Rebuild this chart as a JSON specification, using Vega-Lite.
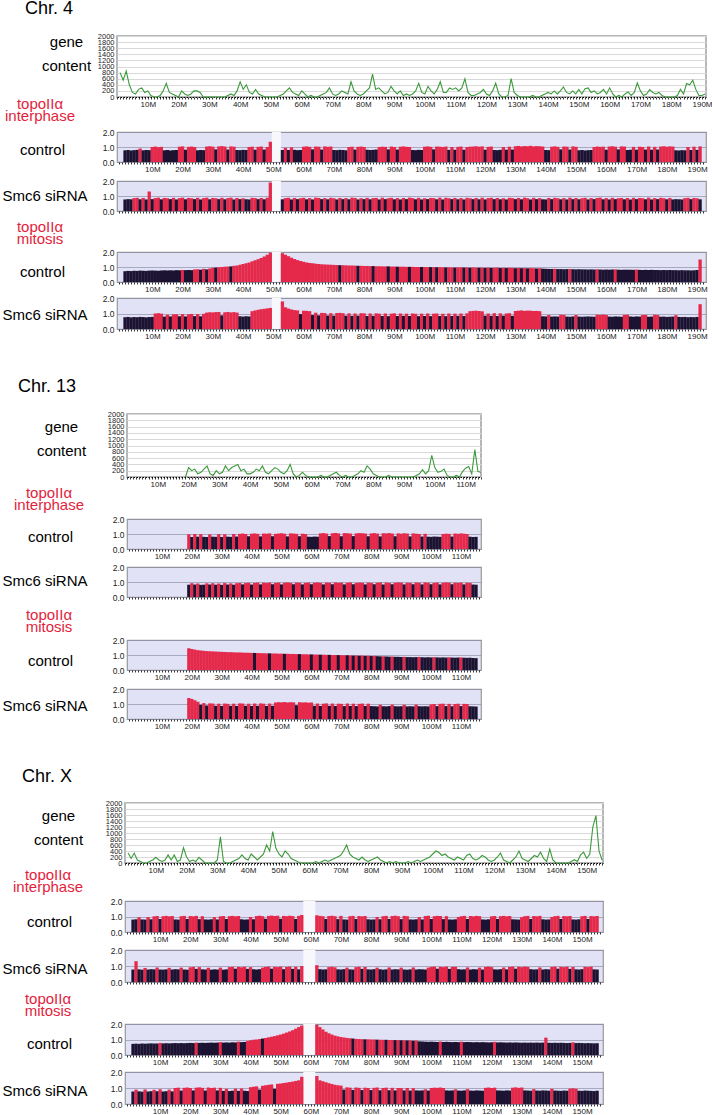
{
"$schema": "https://vega.github.io/schema/vega-lite/v6.json",
"padding": 0,
"background": "white",
"config": {
 "font": "Liberation Sans",
 "view": {"stroke": null},
 "axis": {"labelFont": "Liberation Sans", "titleFont": "Liberation Sans", "labelColor": "#222", "titleColor": "#000", "titleFontWeight": "normal", "titleFontSize": 15, "labelOverlap": false, "labelFlush": false, "labelBound": false},
 "axisX": {"labelFontSize": 8, "labelPadding": 1, "tickSize": 2, "tickColor": "#000", "tickWidth": 0.8, "domain": false, "grid": false},
 "axisY": {"labelFontSize": 8.5, "labelPadding": 3, "ticks": false, "domain": false, "titleAngle": 0, "titleBaseline": "alphabetic", "titleAlign": "center"},
 "title": {"font": "Liberation Sans", "fontWeight": "normal", "anchor": "start", "frame": "group"}
},
"datasets": {
"gap4": [{"s": 49.5, "e": 52.5}],
"gapx": [{"s": 57.5, "e": 61.5}],
"c4": [
{"x":1,"g":800,"a":78,"p":0,"b":77,"q":0,"c":72,"r":0,"d":76,"s":0},
{"x":2,"g":550,"a":80,"p":0,"b":79,"q":0,"c":74,"r":0,"d":78,"s":0},
{"x":3,"g":850,"a":77,"p":0,"b":78,"q":0,"c":73,"r":0,"d":75,"s":0},
{"x":4,"g":400,"a":79,"p":0,"b":86,"q":1,"c":75,"r":0,"d":77,"s":0},
{"x":5,"g":150,"a":81,"p":0,"b":88,"q":1,"c":74,"r":0,"d":76,"s":0},
{"x":6,"g":100,"a":90,"p":1,"b":78,"q":0,"c":76,"r":0,"d":78,"s":0},
{"x":7,"g":250,"a":78,"p":0,"b":87,"q":1,"c":75,"r":0,"d":77,"s":0},
{"x":8,"g":300,"a":80,"p":0,"b":77,"q":0,"c":74,"r":0,"d":75,"s":0},
{"x":9,"g":150,"a":79,"p":0,"b":130,"q":1,"c":76,"r":0,"d":77,"s":0},
{"x":10,"g":200,"a":100,"p":1,"b":79,"q":0,"c":77,"r":0,"d":78,"s":0},
{"x":11,"g":50,"a":103,"p":1,"b":86,"q":1,"c":76,"r":0,"d":100,"s":1},
{"x":12,"g":0,"a":99,"p":1,"b":89,"q":1,"c":75,"r":0,"d":102,"s":1},
{"x":13,"g":0,"a":101,"p":1,"b":78,"q":0,"c":77,"r":0,"d":99,"s":1},
{"x":14,"g":50,"a":78,"p":0,"b":87,"q":1,"c":78,"r":0,"d":80,"s":0},
{"x":15,"g":200,"a":80,"p":0,"b":85,"q":1,"c":77,"r":0,"d":92,"s":1},
{"x":16,"g":450,"a":77,"p":0,"b":79,"q":0,"c":78,"r":0,"d":81,"s":0},
{"x":17,"g":150,"a":79,"p":0,"b":88,"q":1,"c":77,"r":0,"d":94,"s":1},
{"x":18,"g":100,"a":80,"p":0,"b":77,"q":0,"c":79,"r":0,"d":95,"s":1},
{"x":19,"g":50,"a":102,"p":1,"b":86,"q":1,"c":78,"r":0,"d":82,"s":0},
{"x":20,"g":0,"a":104,"p":1,"b":89,"q":1,"c":80,"r":1,"d":96,"s":1},
{"x":21,"g":200,"a":82,"p":0,"b":78,"q":0,"c":79,"r":0,"d":81,"s":0},
{"x":22,"g":100,"a":101,"p":1,"b":87,"q":1,"c":80,"r":0,"d":95,"s":1},
{"x":23,"g":50,"a":103,"p":1,"b":85,"q":1,"c":79,"r":0,"d":97,"s":1},
{"x":24,"g":100,"a":100,"p":1,"b":79,"q":0,"c":84,"r":1,"d":83,"s":0},
{"x":25,"g":200,"a":78,"p":0,"b":88,"q":1,"c":85,"r":1,"d":96,"s":1},
{"x":26,"g":200,"a":80,"p":0,"b":77,"q":0,"c":82,"r":0,"d":82,"s":0},
{"x":27,"g":150,"a":79,"p":0,"b":86,"q":1,"c":88,"r":1,"d":98,"s":1},
{"x":28,"g":0,"a":103,"p":1,"b":89,"q":1,"c":84,"r":0,"d":106,"s":1},
{"x":29,"g":0,"a":105,"p":1,"b":78,"q":0,"c":90,"r":1,"d":108,"s":1},
{"x":30,"g":0,"a":102,"p":1,"b":87,"q":1,"c":95,"r":1,"d":107,"s":1},
{"x":31,"g":0,"a":84,"p":0,"b":85,"q":1,"c":96,"r":0,"d":109,"s":1},
{"x":32,"g":0,"a":104,"p":1,"b":79,"q":0,"c":98,"r":1,"d":110,"s":1},
{"x":33,"g":0,"a":106,"p":1,"b":88,"q":1,"c":100,"r":1,"d":88,"s":0},
{"x":34,"g":0,"a":103,"p":1,"b":78,"q":0,"c":102,"r":1,"d":108,"s":1},
{"x":35,"g":0,"a":83,"p":0,"b":86,"q":1,"c":103,"r":1,"d":110,"s":1},
{"x":36,"g":50,"a":104,"p":1,"b":89,"q":1,"c":104,"r":0,"d":107,"s":1},
{"x":37,"g":100,"a":102,"p":1,"b":77,"q":0,"c":108,"r":1,"d":109,"s":1},
{"x":38,"g":50,"a":80,"p":0,"b":87,"q":1,"c":110,"r":1,"d":106,"s":1},
{"x":39,"g":200,"a":79,"p":0,"b":79,"q":0,"c":115,"r":1,"d":82,"s":0},
{"x":40,"g":500,"a":81,"p":0,"b":85,"q":1,"c":120,"r":1,"d":80,"s":0},
{"x":41,"g":250,"a":80,"p":0,"b":78,"q":0,"c":125,"r":1,"d":83,"s":0},
{"x":42,"g":400,"a":100,"p":1,"b":77,"q":0,"c":130,"r":1,"d":81,"s":0},
{"x":43,"g":150,"a":102,"p":1,"b":88,"q":1,"c":138,"r":1,"d":115,"s":1},
{"x":44,"g":100,"a":82,"p":0,"b":86,"q":1,"c":145,"r":1,"d":120,"s":1},
{"x":45,"g":250,"a":101,"p":1,"b":79,"q":0,"c":152,"r":1,"d":124,"s":1},
{"x":46,"g":100,"a":103,"p":1,"b":87,"q":1,"c":160,"r":1,"d":128,"s":1},
{"x":47,"g":50,"a":83,"p":0,"b":78,"q":0,"c":170,"r":1,"d":130,"s":1},
{"x":48,"g":0,"a":100,"p":1,"b":89,"q":1,"c":182,"r":1,"d":133,"s":1},
{"x":49,"g":0,"a":135,"p":1,"b":190,"q":1,"c":195,"r":1,"d":136,"s":1},
{"x":50,"g":0},
{"x":51,"g":0},
{"x":52,"g":0},
{"x":53,"g":50,"a":80,"p":0,"b":78,"q":0,"c":192,"r":1,"d":178,"s":1},
{"x":54,"g":100,"a":95,"p":1,"b":86,"q":1,"c":182,"r":1,"d":140,"s":1},
{"x":55,"g":200,"a":80,"p":0,"b":88,"q":1,"c":172,"r":1,"d":132,"s":1},
{"x":56,"g":300,"a":98,"p":1,"b":77,"q":0,"c":162,"r":1,"d":126,"s":1},
{"x":57,"g":150,"a":81,"p":0,"b":87,"q":1,"c":153,"r":1,"d":122,"s":1},
{"x":58,"g":100,"a":79,"p":0,"b":79,"q":0,"c":146,"r":1,"d":120,"s":1},
{"x":59,"g":50,"a":80,"p":0,"b":85,"q":1,"c":140,"r":1,"d":96,"s":0},
{"x":60,"g":200,"a":102,"p":1,"b":88,"q":1,"c":135,"r":1,"d":118,"s":1},
{"x":61,"g":100,"a":104,"p":1,"b":78,"q":0,"c":130,"r":1,"d":117,"s":1},
{"x":62,"g":0,"a":101,"p":1,"b":86,"q":1,"c":127,"r":1,"d":115,"s":1},
{"x":63,"g":50,"a":84,"p":0,"b":77,"q":0,"c":125,"r":1,"d":90,"s":0},
{"x":64,"g":0,"a":103,"p":1,"b":89,"q":1,"c":122,"r":1,"d":105,"s":1},
{"x":65,"g":0,"a":102,"p":1,"b":87,"q":1,"c":120,"r":1,"d":88,"s":0},
{"x":66,"g":50,"a":83,"p":0,"b":79,"q":0,"c":118,"r":1,"d":104,"s":1},
{"x":67,"g":100,"a":104,"p":1,"b":86,"q":1,"c":117,"r":1,"d":103,"s":1},
{"x":68,"g":150,"a":101,"p":1,"b":78,"q":0,"c":116,"r":1,"d":87,"s":0},
{"x":69,"g":300,"a":103,"p":1,"b":88,"q":1,"c":115,"r":1,"d":102,"s":1},
{"x":70,"g":100,"a":80,"p":0,"b":85,"q":1,"c":114,"r":1,"d":86,"s":0},
{"x":71,"g":50,"a":79,"p":0,"b":77,"q":0,"c":113,"r":1,"d":103,"s":1},
{"x":72,"g":100,"a":81,"p":0,"b":87,"q":1,"c":112,"r":0,"d":104,"s":1},
{"x":73,"g":200,"a":80,"p":0,"b":79,"q":0,"c":112,"r":1,"d":102,"s":1},
{"x":74,"g":150,"a":78,"p":0,"b":86,"q":1,"c":111,"r":1,"d":86,"s":0},
{"x":75,"g":100,"a":100,"p":1,"b":78,"q":0,"c":110,"r":1,"d":101,"s":1},
{"x":76,"g":500,"a":102,"p":1,"b":89,"q":1,"c":110,"r":1,"d":85,"s":0},
{"x":77,"g":200,"a":83,"p":0,"b":87,"q":1,"c":109,"r":1,"d":100,"s":1},
{"x":78,"g":100,"a":101,"p":1,"b":77,"q":0,"c":108,"r":0,"d":86,"s":0},
{"x":79,"g":50,"a":103,"p":1,"b":85,"q":1,"c":108,"r":1,"d":102,"s":1},
{"x":80,"g":100,"a":100,"p":1,"b":79,"q":0,"c":107,"r":1,"d":101,"s":1},
{"x":81,"g":200,"a":82,"p":0,"b":88,"q":1,"c":107,"r":1,"d":84,"s":0},
{"x":82,"g":300,"a":80,"p":0,"b":78,"q":0,"c":106,"r":1,"d":100,"s":1},
{"x":83,"g":750,"a":81,"p":0,"b":86,"q":1,"c":106,"r":0,"d":85,"s":0},
{"x":84,"g":250,"a":83,"p":0,"b":87,"q":1,"c":105,"r":1,"d":101,"s":1},
{"x":85,"g":300,"a":100,"p":1,"b":77,"q":0,"c":105,"r":1,"d":99,"s":1},
{"x":86,"g":200,"a":102,"p":1,"b":89,"q":1,"c":104,"r":1,"d":84,"s":0},
{"x":87,"g":100,"a":101,"p":1,"b":79,"q":0,"c":104,"r":1,"d":100,"s":1},
{"x":88,"g":150,"a":84,"p":0,"b":85,"q":1,"c":104,"r":0,"d":83,"s":0},
{"x":89,"g":350,"a":103,"p":1,"b":88,"q":1,"c":103,"r":1,"d":99,"s":1},
{"x":90,"g":200,"a":100,"p":1,"b":78,"q":0,"c":103,"r":1,"d":101,"s":1},
{"x":91,"g":100,"a":83,"p":0,"b":86,"q":1,"c":102,"r":0,"d":84,"s":0},
{"x":92,"g":200,"a":102,"p":1,"b":77,"q":0,"c":102,"r":1,"d":100,"s":1},
{"x":93,"g":50,"a":104,"p":1,"b":87,"q":1,"c":102,"r":1,"d":85,"s":0},
{"x":94,"g":100,"a":101,"p":1,"b":79,"q":0,"c":101,"r":1,"d":99,"s":1},
{"x":95,"g":50,"a":100,"p":1,"b":89,"q":1,"c":101,"r":0,"d":84,"s":0},
{"x":96,"g":100,"a":80,"p":0,"b":86,"q":1,"c":101,"r":1,"d":100,"s":1},
{"x":97,"g":200,"a":79,"p":0,"b":78,"q":0,"c":100,"r":1,"d":98,"s":1},
{"x":98,"g":450,"a":81,"p":0,"b":88,"q":1,"c":100,"r":1,"d":83,"s":0},
{"x":99,"g":150,"a":80,"p":0,"b":77,"q":0,"c":100,"r":0,"d":99,"s":1},
{"x":100,"g":100,"a":102,"p":1,"b":85,"q":1,"c":100,"r":1,"d":84,"s":0},
{"x":101,"g":350,"a":104,"p":1,"b":79,"q":0,"c":99,"r":1,"d":100,"s":1},
{"x":102,"g":200,"a":101,"p":1,"b":87,"q":1,"c":99,"r":0,"d":83,"s":0},
{"x":103,"g":100,"a":84,"p":0,"b":86,"q":1,"c":99,"r":1,"d":99,"s":1},
{"x":104,"g":250,"a":103,"p":1,"b":78,"q":0,"c":98,"r":0,"d":100,"s":1},
{"x":105,"g":500,"a":102,"p":1,"b":89,"q":1,"c":99,"r":1,"d":84,"s":0},
{"x":106,"g":150,"a":100,"p":1,"b":77,"q":0,"c":98,"r":1,"d":98,"s":1},
{"x":107,"g":150,"a":103,"p":1,"b":88,"q":1,"c":97,"r":0,"d":83,"s":0},
{"x":108,"g":300,"a":81,"p":0,"b":85,"q":1,"c":98,"r":1,"d":100,"s":1},
{"x":109,"g":250,"a":100,"p":1,"b":79,"q":0,"c":97,"r":1,"d":84,"s":0},
{"x":110,"g":300,"a":82,"p":0,"b":87,"q":1,"c":96,"r":0,"d":99,"s":1},
{"x":111,"g":200,"a":101,"p":1,"b":78,"q":0,"c":97,"r":1,"d":85,"s":0},
{"x":112,"g":300,"a":103,"p":1,"b":86,"q":1,"c":98,"r":1,"d":100,"s":1},
{"x":113,"g":600,"a":82,"p":0,"b":77,"q":0,"c":96,"r":0,"d":84,"s":0},
{"x":114,"g":150,"a":100,"p":1,"b":88,"q":1,"c":97,"r":1,"d":101,"s":1},
{"x":115,"g":50,"a":102,"p":1,"b":85,"q":1,"c":95,"r":0,"d":115,"s":1},
{"x":116,"g":50,"a":103,"p":1,"b":79,"q":0,"c":97,"r":1,"d":117,"s":1},
{"x":117,"g":100,"a":105,"p":1,"b":87,"q":1,"c":96,"r":1,"d":118,"s":1},
{"x":118,"g":150,"a":102,"p":1,"b":78,"q":0,"c":95,"r":0,"d":116,"s":1},
{"x":119,"g":250,"a":104,"p":1,"b":89,"q":1,"c":96,"r":1,"d":114,"s":1},
{"x":120,"g":100,"a":82,"p":0,"b":77,"q":0,"c":94,"r":0,"d":86,"s":0},
{"x":121,"g":50,"a":101,"p":1,"b":86,"q":1,"c":96,"r":1,"d":100,"s":1},
{"x":122,"g":200,"a":103,"p":1,"b":88,"q":1,"c":94,"r":0,"d":85,"s":0},
{"x":123,"g":450,"a":80,"p":0,"b":79,"q":0,"c":95,"r":1,"d":102,"s":1},
{"x":124,"g":100,"a":79,"p":0,"b":87,"q":1,"c":96,"r":1,"d":84,"s":0},
{"x":125,"g":0,"a":81,"p":0,"b":78,"q":0,"c":93,"r":0,"d":101,"s":1},
{"x":126,"g":0,"a":100,"p":1,"b":85,"q":1,"c":95,"r":1,"d":86,"s":0},
{"x":127,"g":50,"a":82,"p":0,"b":77,"q":0,"c":93,"r":0,"d":100,"s":1},
{"x":128,"g":600,"a":102,"p":1,"b":88,"q":1,"c":95,"r":1,"d":102,"s":1},
{"x":129,"g":150,"a":83,"p":0,"b":86,"q":1,"c":94,"r":1,"d":85,"s":0},
{"x":130,"g":50,"a":105,"p":1,"b":79,"q":0,"c":92,"r":0,"d":116,"s":1},
{"x":131,"g":0,"a":107,"p":1,"b":87,"q":1,"c":94,"r":1,"d":118,"s":1},
{"x":132,"g":0,"a":104,"p":1,"b":78,"q":0,"c":92,"r":0,"d":120,"s":1},
{"x":133,"g":0,"a":106,"p":1,"b":89,"q":1,"c":93,"r":1,"d":117,"s":1},
{"x":134,"g":0,"a":105,"p":1,"b":85,"q":1,"c":91,"r":0,"d":119,"s":1},
{"x":135,"g":50,"a":108,"p":1,"b":77,"q":0,"c":93,"r":1,"d":118,"s":1},
{"x":136,"g":0,"a":104,"p":1,"b":88,"q":1,"c":92,"r":1,"d":116,"s":1},
{"x":137,"g":0,"a":106,"p":1,"b":79,"q":0,"c":90,"r":0,"d":117,"s":1},
{"x":138,"g":50,"a":105,"p":1,"b":86,"q":1,"c":92,"r":1,"d":115,"s":1},
{"x":139,"g":100,"a":103,"p":1,"b":78,"q":0,"c":89,"r":0,"d":82,"s":0},
{"x":140,"g":150,"a":80,"p":0,"b":77,"q":0,"c":88,"r":0,"d":81,"s":0},
{"x":141,"g":100,"a":79,"p":0,"b":87,"q":1,"c":87,"r":0,"d":90,"s":1},
{"x":142,"g":200,"a":102,"p":1,"b":79,"q":0,"c":87,"r":0,"d":80,"s":0},
{"x":143,"g":100,"a":104,"p":1,"b":88,"q":1,"c":88,"r":1,"d":81,"s":0},
{"x":144,"g":200,"a":101,"p":1,"b":85,"q":1,"c":86,"r":0,"d":80,"s":0},
{"x":145,"g":330,"a":84,"p":0,"b":78,"q":0,"c":86,"r":0,"d":92,"s":1},
{"x":146,"g":150,"a":103,"p":1,"b":86,"q":1,"c":85,"r":0,"d":91,"s":1},
{"x":147,"g":100,"a":102,"p":1,"b":77,"q":0,"c":86,"r":0,"d":80,"s":0},
{"x":148,"g":200,"a":83,"p":0,"b":89,"q":1,"c":87,"r":1,"d":79,"s":0},
{"x":149,"g":100,"a":104,"p":1,"b":79,"q":0,"c":85,"r":0,"d":81,"s":0},
{"x":150,"g":250,"a":101,"p":1,"b":87,"q":1,"c":84,"r":0,"d":90,"s":1},
{"x":151,"g":100,"a":78,"p":0,"b":78,"q":0,"c":85,"r":0,"d":80,"s":0},
{"x":152,"g":275,"a":80,"p":0,"b":85,"q":1,"c":84,"r":0,"d":79,"s":0},
{"x":153,"g":300,"a":77,"p":0,"b":88,"q":1,"c":84,"r":0,"d":80,"s":0},
{"x":154,"g":150,"a":79,"p":0,"b":77,"q":0,"c":83,"r":0,"d":81,"s":0},
{"x":155,"g":200,"a":80,"p":0,"b":86,"q":1,"c":84,"r":0,"d":80,"s":0},
{"x":156,"g":100,"a":100,"p":1,"b":79,"q":0,"c":83,"r":0,"d":79,"s":0},
{"x":157,"g":150,"a":103,"p":1,"b":87,"q":1,"c":85,"r":1,"d":92,"s":1},
{"x":158,"g":250,"a":101,"p":1,"b":89,"q":1,"c":83,"r":0,"d":91,"s":1},
{"x":159,"g":100,"a":102,"p":1,"b":78,"q":0,"c":82,"r":0,"d":93,"s":1},
{"x":160,"g":300,"a":82,"p":0,"b":86,"q":1,"c":83,"r":0,"d":90,"s":1},
{"x":161,"g":100,"a":103,"p":1,"b":77,"q":0,"c":82,"r":0,"d":80,"s":0},
{"x":162,"g":0,"a":105,"p":1,"b":88,"q":1,"c":83,"r":0,"d":79,"s":0},
{"x":163,"g":50,"a":102,"p":1,"b":79,"q":0,"c":84,"r":1,"d":81,"s":0},
{"x":164,"g":0,"a":84,"p":0,"b":85,"q":1,"c":82,"r":0,"d":80,"s":0},
{"x":165,"g":100,"a":104,"p":1,"b":87,"q":1,"c":81,"r":0,"d":79,"s":0},
{"x":166,"g":165,"a":103,"p":1,"b":78,"q":0,"c":82,"r":0,"d":91,"s":1},
{"x":167,"g":50,"a":80,"p":0,"b":86,"q":1,"c":81,"r":0,"d":92,"s":1},
{"x":168,"g":150,"a":81,"p":0,"b":77,"q":0,"c":82,"r":0,"d":80,"s":0},
{"x":169,"g":460,"a":101,"p":1,"b":88,"q":1,"c":81,"r":0,"d":79,"s":0},
{"x":170,"g":200,"a":82,"p":0,"b":79,"q":0,"c":83,"r":1,"d":81,"s":0},
{"x":171,"g":50,"a":102,"p":1,"b":87,"q":1,"c":81,"r":0,"d":80,"s":0},
{"x":172,"g":100,"a":100,"p":1,"b":85,"q":1,"c":80,"r":0,"d":90,"s":1},
{"x":173,"g":240,"a":83,"p":0,"b":78,"q":0,"c":81,"r":0,"d":91,"s":1},
{"x":174,"g":150,"a":103,"p":1,"b":89,"q":1,"c":80,"r":0,"d":79,"s":0},
{"x":175,"g":100,"a":82,"p":0,"b":77,"q":0,"c":81,"r":0,"d":80,"s":0},
{"x":176,"g":150,"a":101,"p":1,"b":86,"q":1,"c":80,"r":0,"d":92,"s":1},
{"x":177,"g":50,"a":83,"p":0,"b":79,"q":0,"c":80,"r":0,"d":90,"s":1},
{"x":178,"g":0,"a":103,"p":1,"b":88,"q":1,"c":79,"r":0,"d":79,"s":0},
{"x":179,"g":0,"a":105,"p":1,"b":85,"q":1,"c":80,"r":0,"d":80,"s":0},
{"x":180,"g":0,"a":102,"p":1,"b":78,"q":0,"c":79,"r":0,"d":78,"s":0},
{"x":181,"g":0,"a":104,"p":1,"b":87,"q":1,"c":80,"r":0,"d":79,"s":0},
{"x":182,"g":50,"a":103,"p":1,"b":77,"q":0,"c":79,"r":0,"d":80,"s":0},
{"x":183,"g":250,"a":78,"p":0,"b":79,"q":0,"c":79,"r":0,"d":89,"s":1},
{"x":184,"g":100,"a":77,"p":0,"b":78,"q":0,"c":78,"r":0,"d":78,"s":0},
{"x":185,"g":440,"a":79,"p":0,"b":77,"q":0,"c":79,"r":0,"d":77,"s":0},
{"x":186,"g":400,"a":78,"p":0,"b":86,"q":1,"c":78,"r":0,"d":78,"s":0},
{"x":187,"g":550,"a":100,"p":1,"b":88,"q":1,"c":78,"r":0,"d":76,"s":0},
{"x":188,"g":250,"a":80,"p":0,"b":79,"q":0,"c":77,"r":0,"d":77,"s":0},
{"x":189,"g":50,"a":102,"p":1,"b":87,"q":1,"c":78,"r":0,"d":76,"s":0},
{"x":190,"g":50,"a":81,"p":0,"b":85,"q":1,"c":80,"r":0,"d":78,"s":0},
{"x":191,"g":100,"a":104,"p":1,"b":78,"q":0,"c":150,"r":1,"d":160,"s":1}
],
"c13": [
{"x":19,"g":0,"a":98,"p":1,"b":82,"q":0,"c":145,"r":1,"d":140,"s":1},
{"x":20,"g":300,"a":80,"p":0,"b":92,"q":1,"c":140,"r":1,"d":134,"s":1},
{"x":21,"g":200,"a":100,"p":1,"b":83,"q":0,"c":136,"r":1,"d":125,"s":1},
{"x":22,"g":250,"a":82,"p":0,"b":90,"q":1,"c":132,"r":1,"d":115,"s":1},
{"x":23,"g":100,"a":99,"p":1,"b":81,"q":0,"c":130,"r":1,"d":95,"s":0},
{"x":24,"g":150,"a":81,"p":0,"b":82,"q":0,"c":128,"r":1,"d":106,"s":1},
{"x":25,"g":250,"a":80,"p":0,"b":91,"q":1,"c":126,"r":1,"d":90,"s":0},
{"x":26,"g":350,"a":97,"p":1,"b":83,"q":0,"c":125,"r":1,"d":104,"s":1},
{"x":27,"g":100,"a":82,"p":0,"b":92,"q":1,"c":124,"r":1,"d":103,"s":1},
{"x":28,"g":50,"a":81,"p":0,"b":82,"q":0,"c":123,"r":1,"d":88,"s":0},
{"x":29,"g":200,"a":99,"p":1,"b":90,"q":1,"c":122,"r":1,"d":102,"s":1},
{"x":30,"g":100,"a":80,"p":0,"b":81,"q":0,"c":121,"r":1,"d":87,"s":0},
{"x":31,"g":150,"a":98,"p":1,"b":93,"q":1,"c":120,"r":1,"d":103,"s":1},
{"x":32,"g":350,"a":82,"p":0,"b":83,"q":0,"c":119,"r":1,"d":101,"s":1},
{"x":33,"g":200,"a":81,"p":0,"b":91,"q":1,"c":119,"r":1,"d":88,"s":0},
{"x":34,"g":300,"a":100,"p":1,"b":82,"q":0,"c":118,"r":1,"d":102,"s":1},
{"x":35,"g":350,"a":83,"p":0,"b":92,"q":1,"c":117,"r":1,"d":87,"s":0},
{"x":36,"g":400,"a":101,"p":1,"b":94,"q":1,"c":117,"r":1,"d":104,"s":1},
{"x":37,"g":200,"a":103,"p":1,"b":84,"q":0,"c":116,"r":1,"d":103,"s":1},
{"x":38,"g":250,"a":100,"p":1,"b":93,"q":1,"c":115,"r":1,"d":88,"s":0},
{"x":39,"g":100,"a":85,"p":0,"b":95,"q":1,"c":115,"r":1,"d":102,"s":1},
{"x":40,"g":100,"a":102,"p":1,"b":83,"q":0,"c":114,"r":1,"d":87,"s":0},
{"x":41,"g":150,"a":104,"p":1,"b":94,"q":1,"c":114,"r":0,"d":103,"s":1},
{"x":42,"g":250,"a":101,"p":1,"b":96,"q":1,"c":113,"r":1,"d":88,"s":0},
{"x":43,"g":200,"a":84,"p":0,"b":84,"q":0,"c":112,"r":1,"d":104,"s":1},
{"x":44,"g":350,"a":103,"p":1,"b":95,"q":1,"c":112,"r":1,"d":102,"s":1},
{"x":45,"g":150,"a":102,"p":1,"b":93,"q":1,"c":111,"r":1,"d":87,"s":0},
{"x":46,"g":100,"a":104,"p":1,"b":96,"q":1,"c":111,"r":0,"d":103,"s":1},
{"x":47,"g":200,"a":85,"p":0,"b":85,"q":0,"c":110,"r":1,"d":88,"s":0},
{"x":48,"g":300,"a":101,"p":1,"b":94,"q":1,"c":110,"r":1,"d":110,"s":1},
{"x":49,"g":250,"a":103,"p":1,"b":96,"q":1,"c":109,"r":1,"d":112,"s":1},
{"x":50,"g":150,"a":105,"p":1,"b":84,"q":0,"c":109,"r":1,"d":111,"s":1},
{"x":51,"g":100,"a":102,"p":1,"b":95,"q":1,"c":108,"r":0,"d":113,"s":1},
{"x":52,"g":200,"a":84,"p":0,"b":97,"q":1,"c":108,"r":1,"d":110,"s":1},
{"x":53,"g":400,"a":104,"p":1,"b":94,"q":1,"c":107,"r":1,"d":112,"s":1},
{"x":54,"g":100,"a":103,"p":1,"b":85,"q":0,"c":107,"r":1,"d":111,"s":1},
{"x":55,"g":0,"a":101,"p":1,"b":96,"q":1,"c":106,"r":1,"d":92,"s":0},
{"x":56,"g":50,"a":85,"p":0,"b":95,"q":1,"c":106,"r":0,"d":112,"s":1},
{"x":57,"g":150,"a":102,"p":1,"b":84,"q":0,"c":105,"r":1,"d":110,"s":1},
{"x":58,"g":50,"a":100,"p":1,"b":94,"q":1,"c":105,"r":1,"d":111,"s":1},
{"x":59,"g":0,"a":82,"p":0,"b":96,"q":1,"c":104,"r":1,"d":109,"s":1},
{"x":60,"g":0,"a":81,"p":0,"b":85,"q":0,"c":104,"r":0,"d":110,"s":1},
{"x":61,"g":0,"a":83,"p":0,"b":95,"q":1,"c":103,"r":1,"d":88,"s":0},
{"x":62,"g":0,"a":82,"p":0,"b":97,"q":1,"c":103,"r":1,"d":103,"s":1},
{"x":63,"g":50,"a":104,"p":1,"b":94,"q":1,"c":102,"r":0,"d":87,"s":0},
{"x":64,"g":0,"a":106,"p":1,"b":84,"q":0,"c":102,"r":1,"d":102,"s":1},
{"x":65,"g":0,"a":103,"p":1,"b":96,"q":1,"c":101,"r":1,"d":104,"s":1},
{"x":66,"g":50,"a":86,"p":0,"b":95,"q":1,"c":101,"r":0,"d":88,"s":0},
{"x":67,"g":100,"a":105,"p":1,"b":85,"q":0,"c":100,"r":1,"d":103,"s":1},
{"x":68,"g":150,"a":107,"p":1,"b":97,"q":1,"c":100,"r":1,"d":87,"s":0},
{"x":69,"g":50,"a":104,"p":1,"b":94,"q":1,"c":99,"r":0,"d":102,"s":1},
{"x":70,"g":0,"a":85,"p":0,"b":96,"q":1,"c":99,"r":1,"d":101,"s":1},
{"x":71,"g":50,"a":106,"p":1,"b":84,"q":0,"c":98,"r":1,"d":86,"s":0},
{"x":72,"g":0,"a":105,"p":1,"b":95,"q":1,"c":98,"r":0,"d":103,"s":1},
{"x":73,"g":0,"a":103,"p":1,"b":97,"q":1,"c":97,"r":1,"d":87,"s":0},
{"x":74,"g":50,"a":86,"p":0,"b":85,"q":0,"c":96,"r":0,"d":102,"s":1},
{"x":75,"g":100,"a":104,"p":1,"b":94,"q":1,"c":97,"r":1,"d":86,"s":0},
{"x":76,"g":200,"a":106,"p":1,"b":96,"q":1,"c":95,"r":0,"d":101,"s":1},
{"x":77,"g":150,"a":105,"p":1,"b":95,"q":1,"c":96,"r":1,"d":103,"s":1},
{"x":78,"g":350,"a":103,"p":1,"b":84,"q":0,"c":94,"r":0,"d":87,"s":0},
{"x":79,"g":250,"a":85,"p":0,"b":96,"q":1,"c":95,"r":1,"d":102,"s":1},
{"x":80,"g":100,"a":104,"p":1,"b":94,"q":1,"c":93,"r":0,"d":86,"s":0},
{"x":81,"g":50,"a":106,"p":1,"b":85,"q":0,"c":94,"r":1,"d":85,"s":0},
{"x":82,"g":0,"a":103,"p":1,"b":95,"q":1,"c":92,"r":0,"d":84,"s":0},
{"x":83,"g":0,"a":84,"p":0,"b":97,"q":1,"c":91,"r":0,"d":95,"s":1},
{"x":84,"g":0,"a":105,"p":1,"b":84,"q":0,"c":92,"r":1,"d":85,"s":0},
{"x":85,"g":50,"a":104,"p":1,"b":96,"q":1,"c":90,"r":0,"d":84,"s":0},
{"x":86,"g":0,"a":106,"p":1,"b":94,"q":1,"c":89,"r":0,"d":86,"s":0},
{"x":87,"g":0,"a":103,"p":1,"b":85,"q":0,"c":90,"r":1,"d":96,"s":1},
{"x":88,"g":0,"a":85,"p":0,"b":95,"q":1,"c":88,"r":0,"d":85,"s":0},
{"x":89,"g":0,"a":104,"p":1,"b":97,"q":1,"c":88,"r":0,"d":84,"s":0},
{"x":90,"g":0,"a":102,"p":1,"b":96,"q":1,"c":87,"r":0,"d":85,"s":0},
{"x":91,"g":0,"a":105,"p":1,"b":84,"q":0,"c":88,"r":1,"d":95,"s":1},
{"x":92,"g":0,"a":103,"p":1,"b":95,"q":1,"c":86,"r":0,"d":84,"s":0},
{"x":93,"g":0,"a":84,"p":0,"b":94,"q":1,"c":86,"r":0,"d":85,"s":0},
{"x":94,"g":50,"a":104,"p":1,"b":85,"q":0,"c":85,"r":0,"d":84,"s":0},
{"x":95,"g":100,"a":102,"p":1,"b":96,"q":1,"c":86,"r":0,"d":96,"s":1},
{"x":96,"g":230,"a":100,"p":1,"b":95,"q":1,"c":87,"r":1,"d":85,"s":0},
{"x":97,"g":100,"a":83,"p":0,"b":84,"q":0,"c":85,"r":0,"d":84,"s":0},
{"x":98,"g":200,"a":101,"p":1,"b":97,"q":1,"c":84,"r":0,"d":85,"s":0},
{"x":99,"g":690,"a":82,"p":0,"b":95,"q":1,"c":85,"r":0,"d":84,"s":0},
{"x":100,"g":300,"a":81,"p":0,"b":85,"q":0,"c":84,"r":0,"d":97,"s":1},
{"x":101,"g":150,"a":83,"p":0,"b":94,"q":1,"c":86,"r":1,"d":100,"s":1},
{"x":102,"g":180,"a":82,"p":0,"b":96,"q":1,"c":84,"r":0,"d":86,"s":0},
{"x":103,"g":250,"a":81,"p":0,"b":84,"q":0,"c":83,"r":0,"d":101,"s":1},
{"x":104,"g":50,"a":100,"p":1,"b":95,"q":1,"c":84,"r":0,"d":102,"s":1},
{"x":105,"g":0,"a":102,"p":1,"b":97,"q":1,"c":83,"r":0,"d":86,"s":0},
{"x":106,"g":0,"a":101,"p":1,"b":96,"q":1,"c":85,"r":1,"d":101,"s":1},
{"x":107,"g":50,"a":83,"p":0,"b":85,"q":0,"c":83,"r":0,"d":85,"s":0},
{"x":108,"g":0,"a":103,"p":1,"b":95,"q":1,"c":82,"r":0,"d":100,"s":1},
{"x":109,"g":170,"a":101,"p":1,"b":94,"q":1,"c":83,"r":0,"d":102,"s":1},
{"x":110,"g":280,"a":104,"p":1,"b":96,"q":1,"c":84,"r":1,"d":86,"s":0},
{"x":111,"g":330,"a":102,"p":1,"b":84,"q":0,"c":82,"r":0,"d":101,"s":1},
{"x":112,"g":100,"a":100,"p":1,"b":95,"q":1,"c":81,"r":0,"d":100,"s":1},
{"x":113,"g":870,"a":82,"p":0,"b":94,"q":1,"c":82,"r":0,"d":85,"s":0},
{"x":114,"g":170,"a":80,"p":0,"b":83,"q":0,"c":80,"r":0,"d":84,"s":0},
{"x":115,"g":150,"a":81,"p":0,"b":82,"q":0,"c":79,"r":0,"d":83,"s":0}
],
"cx": [
{"x":1,"g":330,"a":80,"p":0,"b":78,"q":0,"c":72,"r":0,"d":78,"s":0},
{"x":2,"g":150,"a":82,"p":0,"b":130,"q":1,"c":73,"r":0,"d":90,"s":1},
{"x":3,"g":330,"a":95,"p":1,"b":79,"q":0,"c":72,"r":0,"d":79,"s":0},
{"x":4,"g":100,"a":81,"p":0,"b":77,"q":0,"c":74,"r":0,"d":77,"s":0},
{"x":5,"g":50,"a":80,"p":0,"b":88,"q":1,"c":73,"r":0,"d":91,"s":1},
{"x":6,"g":0,"a":96,"p":1,"b":78,"q":0,"c":74,"r":0,"d":78,"s":0},
{"x":7,"g":0,"a":82,"p":0,"b":80,"q":0,"c":75,"r":0,"d":80,"s":0},
{"x":8,"g":50,"a":101,"p":1,"b":79,"q":0,"c":74,"r":0,"d":89,"s":1},
{"x":9,"g":100,"a":103,"p":1,"b":90,"q":1,"c":75,"r":0,"d":79,"s":0},
{"x":10,"g":190,"a":84,"p":0,"b":78,"q":0,"c":78,"r":1,"d":92,"s":1},
{"x":11,"g":100,"a":102,"p":1,"b":77,"q":0,"c":75,"r":0,"d":78,"s":0},
{"x":12,"g":50,"a":104,"p":1,"b":79,"q":0,"c":76,"r":0,"d":80,"s":0},
{"x":13,"g":100,"a":101,"p":1,"b":89,"q":1,"c":75,"r":0,"d":90,"s":1},
{"x":14,"g":270,"a":103,"p":1,"b":78,"q":0,"c":76,"r":0,"d":79,"s":0},
{"x":15,"g":100,"a":81,"p":0,"b":80,"q":0,"c":77,"r":0,"d":100,"s":1},
{"x":16,"g":270,"a":80,"p":0,"b":79,"q":0,"c":76,"r":0,"d":102,"s":1},
{"x":17,"g":50,"a":102,"p":1,"b":90,"q":1,"c":77,"r":0,"d":84,"s":0},
{"x":18,"g":100,"a":104,"p":1,"b":78,"q":0,"c":76,"r":0,"d":101,"s":1},
{"x":19,"g":510,"a":84,"p":0,"b":77,"q":0,"c":77,"r":0,"d":103,"s":1},
{"x":20,"g":200,"a":103,"p":1,"b":92,"q":1,"c":78,"r":0,"d":100,"s":1},
{"x":21,"g":50,"a":101,"p":1,"b":94,"q":1,"c":77,"r":0,"d":85,"s":0},
{"x":22,"g":100,"a":104,"p":1,"b":82,"q":0,"c":80,"r":1,"d":102,"s":1},
{"x":23,"g":50,"a":83,"p":0,"b":93,"q":1,"c":78,"r":0,"d":104,"s":1},
{"x":24,"g":190,"a":102,"p":1,"b":79,"q":0,"c":79,"r":0,"d":101,"s":1},
{"x":25,"g":100,"a":81,"p":0,"b":78,"q":0,"c":78,"r":0,"d":84,"s":0},
{"x":26,"g":0,"a":80,"p":0,"b":89,"q":1,"c":79,"r":0,"d":103,"s":1},
{"x":27,"g":0,"a":82,"p":0,"b":77,"q":0,"c":80,"r":0,"d":100,"s":1},
{"x":28,"g":0,"a":96,"p":1,"b":79,"q":0,"c":79,"r":0,"d":102,"s":1},
{"x":29,"g":0,"a":81,"p":0,"b":78,"q":0,"c":80,"r":0,"d":85,"s":0},
{"x":30,"g":100,"a":101,"p":1,"b":90,"q":1,"c":83,"r":1,"d":101,"s":1},
{"x":31,"g":870,"a":103,"p":1,"b":77,"q":0,"c":80,"r":0,"d":82,"s":0},
{"x":32,"g":50,"a":84,"p":0,"b":79,"q":0,"c":81,"r":0,"d":95,"s":1},
{"x":33,"g":0,"a":102,"p":1,"b":93,"q":1,"c":80,"r":0,"d":81,"s":0},
{"x":34,"g":0,"a":104,"p":1,"b":95,"q":1,"c":82,"r":0,"d":83,"s":0},
{"x":35,"g":50,"a":101,"p":1,"b":83,"q":0,"c":81,"r":0,"d":96,"s":1},
{"x":36,"g":100,"a":103,"p":1,"b":94,"q":1,"c":86,"r":1,"d":82,"s":0},
{"x":37,"g":150,"a":82,"p":0,"b":92,"q":1,"c":83,"r":0,"d":97,"s":1},
{"x":38,"g":270,"a":80,"p":0,"b":95,"q":1,"c":84,"r":0,"d":83,"s":0},
{"x":39,"g":150,"a":81,"p":0,"b":82,"q":0,"c":90,"r":1,"d":81,"s":0},
{"x":40,"g":100,"a":97,"p":1,"b":93,"q":1,"c":95,"r":1,"d":105,"s":1},
{"x":41,"g":300,"a":82,"p":0,"b":79,"q":0,"c":98,"r":1,"d":108,"s":1},
{"x":42,"g":200,"a":103,"p":1,"b":78,"q":0,"c":100,"r":1,"d":110,"s":1},
{"x":43,"g":100,"a":105,"p":1,"b":80,"q":0,"c":103,"r":1,"d":90,"s":0},
{"x":44,"g":200,"a":102,"p":1,"b":90,"q":1,"c":106,"r":0,"d":114,"s":1},
{"x":45,"g":300,"a":85,"p":0,"b":94,"q":1,"c":110,"r":1,"d":117,"s":1},
{"x":46,"g":600,"a":104,"p":1,"b":96,"q":1,"c":114,"r":1,"d":120,"s":1},
{"x":47,"g":400,"a":106,"p":1,"b":83,"q":0,"c":118,"r":1,"d":122,"s":1},
{"x":48,"g":1050,"a":103,"p":1,"b":95,"q":1,"c":122,"r":1,"d":95,"s":0},
{"x":49,"g":500,"a":105,"p":1,"b":93,"q":1,"c":127,"r":1,"d":126,"s":1},
{"x":50,"g":300,"a":85,"p":0,"b":96,"q":1,"c":132,"r":1,"d":128,"s":1},
{"x":51,"g":200,"a":104,"p":1,"b":80,"q":0,"c":138,"r":1,"d":131,"s":1},
{"x":52,"g":400,"a":102,"p":1,"b":94,"q":1,"c":145,"r":1,"d":134,"s":1},
{"x":53,"g":300,"a":105,"p":1,"b":96,"q":1,"c":152,"r":1,"d":137,"s":1},
{"x":54,"g":150,"a":103,"p":1,"b":82,"q":0,"c":160,"r":1,"d":140,"s":1},
{"x":55,"g":100,"a":84,"p":0,"b":95,"q":1,"c":170,"r":1,"d":144,"s":1},
{"x":56,"g":50,"a":104,"p":1,"b":79,"q":0,"c":180,"r":1,"d":148,"s":1},
{"x":57,"g":0,"a":110,"p":1,"b":100,"q":1,"c":190,"r":1,"d":170,"s":1},
{"x":58,"g":0},
{"x":59,"g":0},
{"x":60,"g":0},
{"x":61,"g":0},
{"x":62,"g":50,"a":108,"p":1,"b":105,"q":1,"c":195,"r":1,"d":175,"s":1},
{"x":63,"g":0,"a":104,"p":1,"b":80,"q":0,"c":180,"r":1,"d":148,"s":1},
{"x":64,"g":50,"a":102,"p":1,"b":78,"q":0,"c":165,"r":1,"d":142,"s":1},
{"x":65,"g":100,"a":84,"p":0,"b":79,"q":0,"c":150,"r":1,"d":136,"s":1},
{"x":66,"g":50,"a":103,"p":1,"b":93,"q":1,"c":140,"r":1,"d":130,"s":1},
{"x":67,"g":100,"a":105,"p":1,"b":95,"q":1,"c":132,"r":1,"d":125,"s":1},
{"x":68,"g":150,"a":102,"p":1,"b":92,"q":1,"c":125,"r":1,"d":120,"s":1},
{"x":69,"g":200,"a":83,"p":0,"b":79,"q":0,"c":120,"r":1,"d":117,"s":1},
{"x":70,"g":250,"a":104,"p":1,"b":78,"q":0,"c":116,"r":1,"d":115,"s":1},
{"x":71,"g":400,"a":81,"p":0,"b":80,"q":0,"c":113,"r":1,"d":90,"s":0},
{"x":72,"g":600,"a":80,"p":0,"b":90,"q":1,"c":110,"r":1,"d":104,"s":1},
{"x":73,"g":300,"a":102,"p":1,"b":79,"q":0,"c":108,"r":1,"d":102,"s":1},
{"x":74,"g":200,"a":104,"p":1,"b":78,"q":0,"c":106,"r":0,"d":88,"s":0},
{"x":75,"g":150,"a":84,"p":0,"b":93,"q":1,"c":104,"r":1,"d":103,"s":1},
{"x":76,"g":100,"a":103,"p":1,"b":95,"q":1,"c":103,"r":1,"d":101,"s":1},
{"x":77,"g":200,"a":101,"p":1,"b":82,"q":0,"c":102,"r":1,"d":87,"s":0},
{"x":78,"g":100,"a":103,"p":1,"b":94,"q":1,"c":101,"r":0,"d":102,"s":1},
{"x":79,"g":50,"a":82,"p":0,"b":79,"q":0,"c":101,"r":1,"d":100,"s":1},
{"x":80,"g":100,"a":80,"p":0,"b":78,"q":0,"c":100,"r":1,"d":87,"s":0},
{"x":81,"g":150,"a":81,"p":0,"b":80,"q":0,"c":100,"r":1,"d":101,"s":1},
{"x":82,"g":200,"a":97,"p":1,"b":90,"q":1,"c":99,"r":0,"d":103,"s":1},
{"x":83,"g":100,"a":82,"p":0,"b":79,"q":0,"c":99,"r":1,"d":86,"s":0},
{"x":84,"g":50,"a":102,"p":1,"b":77,"q":0,"c":98,"r":1,"d":100,"s":1},
{"x":85,"g":0,"a":104,"p":1,"b":79,"q":0,"c":98,"r":0,"d":102,"s":1},
{"x":86,"g":50,"a":84,"p":0,"b":91,"q":1,"c":97,"r":1,"d":86,"s":0},
{"x":87,"g":0,"a":103,"p":1,"b":78,"q":0,"c":97,"r":1,"d":101,"s":1},
{"x":88,"g":50,"a":105,"p":1,"b":80,"q":0,"c":96,"r":0,"d":85,"s":0},
{"x":89,"g":0,"a":102,"p":1,"b":79,"q":0,"c":96,"r":1,"d":100,"s":1},
{"x":90,"g":0,"a":83,"p":0,"b":90,"q":1,"c":95,"r":0,"d":99,"s":1},
{"x":91,"g":0,"a":104,"p":1,"b":78,"q":0,"c":95,"r":1,"d":85,"s":0},
{"x":92,"g":50,"a":102,"p":1,"b":77,"q":0,"c":94,"r":0,"d":100,"s":1},
{"x":93,"g":0,"a":81,"p":0,"b":79,"q":0,"c":94,"r":1,"d":84,"s":0},
{"x":94,"g":50,"a":80,"p":0,"b":91,"q":1,"c":92,"r":0,"d":99,"s":1},
{"x":95,"g":100,"a":82,"p":0,"b":78,"q":0,"c":93,"r":1,"d":85,"s":0},
{"x":96,"g":50,"a":96,"p":1,"b":80,"q":0,"c":88,"r":0,"d":84,"s":0},
{"x":97,"g":100,"a":81,"p":0,"b":79,"q":0,"c":87,"r":0,"d":85,"s":0},
{"x":98,"g":150,"a":103,"p":1,"b":78,"q":0,"c":86,"r":0,"d":92,"s":1},
{"x":99,"g":200,"a":105,"p":1,"b":90,"q":1,"c":85,"r":0,"d":84,"s":0},
{"x":100,"g":300,"a":84,"p":0,"b":94,"q":1,"c":86,"r":0,"d":100,"s":1},
{"x":101,"g":400,"a":102,"p":1,"b":96,"q":1,"c":85,"r":0,"d":102,"s":1},
{"x":102,"g":350,"a":104,"p":1,"b":83,"q":0,"c":84,"r":0,"d":101,"s":1},
{"x":103,"g":250,"a":103,"p":1,"b":95,"q":1,"c":87,"r":1,"d":103,"s":1},
{"x":104,"g":300,"a":83,"p":0,"b":93,"q":1,"c":84,"r":0,"d":100,"s":1},
{"x":105,"g":200,"a":102,"p":1,"b":96,"q":1,"c":85,"r":0,"d":85,"s":0},
{"x":106,"g":150,"a":81,"p":0,"b":82,"q":0,"c":84,"r":0,"d":84,"s":0},
{"x":107,"g":100,"a":80,"p":0,"b":94,"q":1,"c":83,"r":0,"d":85,"s":0},
{"x":108,"g":200,"a":82,"p":0,"b":95,"q":1,"c":84,"r":0,"d":92,"s":1},
{"x":109,"g":150,"a":97,"p":1,"b":80,"q":0,"c":83,"r":0,"d":84,"s":0},
{"x":110,"g":100,"a":102,"p":1,"b":78,"q":0,"c":86,"r":1,"d":83,"s":0},
{"x":111,"g":250,"a":104,"p":1,"b":79,"q":0,"c":83,"r":0,"d":85,"s":0},
{"x":112,"g":300,"a":84,"p":0,"b":91,"q":1,"c":84,"r":0,"d":93,"s":1},
{"x":113,"g":150,"a":103,"p":1,"b":78,"q":0,"c":83,"r":0,"d":84,"s":0},
{"x":114,"g":100,"a":101,"p":1,"b":80,"q":0,"c":82,"r":0,"d":83,"s":0},
{"x":115,"g":150,"a":104,"p":1,"b":79,"q":0,"c":83,"r":0,"d":85,"s":0},
{"x":116,"g":250,"a":102,"p":1,"b":90,"q":1,"c":82,"r":0,"d":84,"s":0},
{"x":117,"g":200,"a":81,"p":0,"b":78,"q":0,"c":83,"r":0,"d":83,"s":0},
{"x":118,"g":100,"a":80,"p":0,"b":94,"q":1,"c":82,"r":0,"d":101,"s":1},
{"x":119,"g":50,"a":82,"p":0,"b":96,"q":1,"c":81,"r":0,"d":103,"s":1},
{"x":120,"g":100,"a":101,"p":1,"b":93,"q":1,"c":82,"r":0,"d":100,"s":1},
{"x":121,"g":200,"a":103,"p":1,"b":79,"q":0,"c":85,"r":1,"d":102,"s":1},
{"x":122,"g":330,"a":84,"p":0,"b":78,"q":0,"c":81,"r":0,"d":85,"s":0},
{"x":123,"g":100,"a":102,"p":1,"b":80,"q":0,"c":82,"r":0,"d":84,"s":0},
{"x":124,"g":50,"a":104,"p":1,"b":91,"q":1,"c":81,"r":0,"d":83,"s":0},
{"x":125,"g":0,"a":101,"p":1,"b":79,"q":0,"c":80,"r":0,"d":85,"s":0},
{"x":126,"g":100,"a":103,"p":1,"b":94,"q":1,"c":81,"r":0,"d":84,"s":0},
{"x":127,"g":200,"a":82,"p":0,"b":96,"q":1,"c":80,"r":0,"d":102,"s":1},
{"x":128,"g":400,"a":81,"p":0,"b":83,"q":0,"c":81,"r":0,"d":104,"s":1},
{"x":129,"g":150,"a":80,"p":0,"b":95,"q":1,"c":80,"r":0,"d":101,"s":1},
{"x":130,"g":100,"a":96,"p":1,"b":93,"q":1,"c":79,"r":0,"d":103,"s":1},
{"x":131,"g":50,"a":102,"p":1,"b":96,"q":1,"c":80,"r":0,"d":85,"s":0},
{"x":132,"g":150,"a":104,"p":1,"b":94,"q":1,"c":79,"r":0,"d":84,"s":0},
{"x":133,"g":250,"a":84,"p":0,"b":80,"q":0,"c":80,"r":0,"d":83,"s":0},
{"x":134,"g":200,"a":103,"p":1,"b":78,"q":0,"c":79,"r":0,"d":93,"s":1},
{"x":135,"g":360,"a":101,"p":1,"b":79,"q":0,"c":80,"r":0,"d":84,"s":0},
{"x":136,"g":150,"a":104,"p":1,"b":91,"q":1,"c":79,"r":0,"d":83,"s":0},
{"x":137,"g":50,"a":82,"p":0,"b":78,"q":0,"c":80,"r":0,"d":85,"s":0},
{"x":138,"g":460,"a":80,"p":0,"b":80,"q":0,"c":112,"r":1,"d":84,"s":0},
{"x":139,"g":100,"a":81,"p":0,"b":79,"q":0,"c":79,"r":0,"d":83,"s":0},
{"x":140,"g":0,"a":97,"p":1,"b":94,"q":1,"c":78,"r":0,"d":95,"s":1},
{"x":141,"g":0,"a":102,"p":1,"b":96,"q":1,"c":79,"r":0,"d":84,"s":0},
{"x":142,"g":0,"a":104,"p":1,"b":83,"q":0,"c":78,"r":0,"d":83,"s":0},
{"x":143,"g":0,"a":84,"p":0,"b":95,"q":1,"c":79,"r":0,"d":82,"s":0},
{"x":144,"g":0,"a":103,"p":1,"b":93,"q":1,"c":78,"r":0,"d":84,"s":0},
{"x":145,"g":50,"a":101,"p":1,"b":96,"q":1,"c":77,"r":0,"d":83,"s":0},
{"x":146,"g":110,"a":103,"p":1,"b":82,"q":0,"c":78,"r":0,"d":96,"s":1},
{"x":147,"g":50,"a":81,"p":0,"b":94,"q":1,"c":82,"r":1,"d":98,"s":1},
{"x":148,"g":270,"a":80,"p":0,"b":79,"q":0,"c":77,"r":0,"d":95,"s":1},
{"x":149,"g":360,"a":82,"p":0,"b":78,"q":0,"c":78,"r":0,"d":83,"s":0},
{"x":150,"g":150,"a":102,"p":1,"b":80,"q":0,"c":77,"r":0,"d":82,"s":0},
{"x":151,"g":300,"a":104,"p":1,"b":95,"q":1,"c":76,"r":0,"d":84,"s":0},
{"x":152,"g":1200,"a":84,"p":0,"b":93,"q":1,"c":77,"r":0,"d":83,"s":0},
{"x":153,"g":1580,"a":103,"p":1,"b":96,"q":1,"c":76,"r":0,"d":82,"s":0},
{"x":154,"g":400,"a":101,"p":1,"b":79,"q":0,"c":75,"r":0,"d":81,"s":0},
{"x":155,"g":100,"a":103,"p":1,"b":78,"q":0,"c":76,"r":0,"d":83,"s":0}
]
},
"concat": [
{
 "title": {"text": "Chr. 4", "anchor": "start", "frame": "bounds", "dx": 25, "align": "left", "fontSize": 18, "baseline": "alphabetic", "offset": -1, "color": "#000"},
 "hconcat": [
 {"width": 1, "height": 1, "data": {"values": []}, "view": {"fill": "white"}, "mark": {"type": "point", "opacity": 0}, "encoding": {}},
 {
 "vconcat": [
  {"width": 589, "height": 61, "data": {"name": "c4"},
   "view": {"fill": "white", "stroke": "#a0a0a0", "strokeWidth": 1.5},
   "mark": {"type": "line", "color": "#3c9a3c", "strokeWidth": 1.1},
   "encoding": {
    "x": {"field": "x", "type": "quantitative", "scale": {"domain": [0, 191.3], "nice": false, "zero": false}, "axis": {"tickCount": 191, "labelExpr": "datum.value > 0 && datum.value % 10 === 0 ? datum.value + 'M' : ''", "title": null, "domain": true, "domainColor": "#000", "domainDash": [1.5, 1.5]}},
    "y": {"field": "g", "type": "quantitative", "scale": {"domain": [0, 2000], "nice": false}, "axis": {"values": [0,200,400,600,800,1000,1200,1400,1600,1800,2000], "format": "d", "grid": true, "gridColor": "#d9d9d9", "labelFontSize": 7.5, "title": ["gene", "content"], "titleBaseline": "top", "titleX": -51, "titleY": -2, "titleLineHeight": 24}}
   }},
  {"width": 10, "height": 35, "data": {"values": []}, "mark": {"type": "point", "opacity": 0}, "encoding": {}},
  {"width": 589, "height": 30,
   "view": {"fill": "#e2e2f7", "stroke": "#9a9a9a", "strokeWidth": 1.2},
   "title": {"text": ["topoIIα", "interphase"], "dx": -77, "align": "center", "baseline": "bottom", "offset": -11, "fontSize": 15, "color": "#e31e3c", "lineHeight": 12},
   "layer": [
    {"data": {"name": "gap4"}, "mark": {"type": "rect", "color": "#f7f7fc"},
     "encoding": {
      "x": {"field": "s", "type": "quantitative", "scale": {"domain": [0, 191.3], "nice": false, "zero": false}, "axis": {"tickCount": 191, "labelExpr": "datum.value > 0 && datum.value % 10 === 0 ? datum.value + 'M' : ''", "title": null}},
      "x2": {"field": "e"},
      "y": {"datum": 0, "type": "quantitative", "scale": {"domain": [0, 200], "nice": false}, "axis": {"values": [0, 100, 200], "labelExpr": "format(datum.value / 100, '.1f')", "grid": true, "gridColor": "#8f8fa8", "gridWidth": 0.7, "title": "control", "titleX": -75, "titleY": 22}},
      "y2": {"datum": 200}}},
    {"data": {"name": "c4"}, "mark": {"type": "bar", "width": 3.3, "clip": true},
     "encoding": {
      "x": {"field": "x", "type": "quantitative", "scale": {"domain": [0, 191.3], "nice": false, "zero": false}, "axis": {"tickCount": 191, "labelExpr": "datum.value > 0 && datum.value % 10 === 0 ? datum.value + 'M' : ''", "title": null}},
      "y": {"field": "a", "type": "quantitative", "scale": {"domain": [0, 200], "nice": false}, "axis": {"values": [0, 100, 200], "labelExpr": "format(datum.value / 100, '.1f')", "grid": true, "gridColor": "#8f8fa8", "gridWidth": 0.7, "title": "control", "titleX": -75, "titleY": 22}},
      "color": {"field": "p", "type": "nominal", "scale": {"domain": [0, 1], "range": ["#1b1331", "#e5294b"]}, "legend": null}
     }}
   ]},
  {"width": 10, "height": 19, "data": {"values": []}, "mark": {"type": "point", "opacity": 0}, "encoding": {}},
  {"width": 589, "height": 30,
   "view": {"fill": "#e2e2f7", "stroke": "#9a9a9a", "strokeWidth": 1.2},
   "layer": [
    {"data": {"name": "gap4"}, "mark": {"type": "rect", "color": "#f7f7fc"},
     "encoding": {
      "x": {"field": "s", "type": "quantitative", "scale": {"domain": [0, 191.3], "nice": false, "zero": false}, "axis": {"tickCount": 191, "labels": false, "title": null}},
      "x2": {"field": "e"},
      "y": {"datum": 0, "type": "quantitative", "scale": {"domain": [0, 200], "nice": false}, "axis": {"values": [0, 100, 200], "labelExpr": "format(datum.value / 100, '.1f')", "grid": true, "gridColor": "#8f8fa8", "gridWidth": 0.7, "title": "Smc6 siRNA", "titleAlign": "left", "titleX": -115, "titleY": 19}},
      "y2": {"datum": 200}}},
    {"data": {"name": "c4"}, "mark": {"type": "bar", "width": 3.3, "clip": true},
     "encoding": {
      "x": {"field": "x", "type": "quantitative", "scale": {"domain": [0, 191.3], "nice": false, "zero": false}, "axis": {"tickCount": 191, "labels": false, "title": null}},
      "y": {"field": "b", "type": "quantitative", "scale": {"domain": [0, 200], "nice": false}, "axis": {"values": [0, 100, 200], "labelExpr": "format(datum.value / 100, '.1f')", "grid": true, "gridColor": "#8f8fa8", "gridWidth": 0.7, "title": "Smc6 siRNA", "titleAlign": "left", "titleX": -115, "titleY": 19}},
      "color": {"field": "q", "type": "nominal", "scale": {"domain": [0, 1], "range": ["#1b1331", "#e5294b"]}, "legend": null}
     }}
   ]},
  {"width": 10, "height": 41, "data": {"values": []}, "mark": {"type": "point", "opacity": 0}, "encoding": {}},
  {"width": 589, "height": 30,
   "view": {"fill": "#e2e2f7", "stroke": "#9a9a9a", "strokeWidth": 1.2},
   "title": {"text": ["topoIIα", "mitosis"], "dx": -77, "align": "center", "baseline": "bottom", "offset": -14, "fontSize": 15, "color": "#e31e3c", "lineHeight": 12},
   "layer": [
    {"data": {"name": "gap4"}, "mark": {"type": "rect", "color": "#f7f7fc"},
     "encoding": {
      "x": {"field": "s", "type": "quantitative", "scale": {"domain": [0, 191.3], "nice": false, "zero": false}, "axis": {"tickCount": 191, "labelExpr": "datum.value > 0 && datum.value % 10 === 0 ? datum.value + 'M' : ''", "title": null}},
      "x2": {"field": "e"},
      "y": {"datum": 0, "type": "quantitative", "scale": {"domain": [0, 200], "nice": false}, "axis": {"values": [0, 100, 200], "labelExpr": "format(datum.value / 100, '.1f')", "grid": true, "gridColor": "#8f8fa8", "gridWidth": 0.7, "title": "control", "titleX": -75, "titleY": 24}},
      "y2": {"datum": 200}}},
    {"data": {"name": "c4"}, "mark": {"type": "bar", "width": 3.3, "clip": true},
     "encoding": {
      "x": {"field": "x", "type": "quantitative", "scale": {"domain": [0, 191.3], "nice": false, "zero": false}, "axis": {"tickCount": 191, "labelExpr": "datum.value > 0 && datum.value % 10 === 0 ? datum.value + 'M' : ''", "title": null}},
      "y": {"field": "c", "type": "quantitative", "scale": {"domain": [0, 200], "nice": false}, "axis": {"values": [0, 100, 200], "labelExpr": "format(datum.value / 100, '.1f')", "grid": true, "gridColor": "#8f8fa8", "gridWidth": 0.7, "title": "control", "titleX": -75, "titleY": 24}},
      "color": {"field": "r", "type": "nominal", "scale": {"domain": [0, 1], "range": ["#1b1331", "#e5294b"]}, "legend": null}
     }}
   ]},
  {"width": 10, "height": 16, "data": {"values": []}, "mark": {"type": "point", "opacity": 0}, "encoding": {}},
  {"width": 589, "height": 31,
   "view": {"fill": "#e2e2f7", "stroke": "#9a9a9a", "strokeWidth": 1.2},
   "layer": [
    {"data": {"name": "gap4"}, "mark": {"type": "rect", "color": "#f7f7fc"},
     "encoding": {
      "x": {"field": "s", "type": "quantitative", "scale": {"domain": [0, 191.3], "nice": false, "zero": false}, "axis": {"tickCount": 191, "labelExpr": "datum.value > 0 && datum.value % 10 === 0 ? datum.value + 'M' : ''", "title": null}},
      "x2": {"field": "e"},
      "y": {"datum": 0, "type": "quantitative", "scale": {"domain": [0, 200], "nice": false}, "axis": {"values": [0, 100, 200], "labelExpr": "format(datum.value / 100, '.1f')", "grid": true, "gridColor": "#8f8fa8", "gridWidth": 0.7, "title": "Smc6 siRNA", "titleAlign": "left", "titleX": -115, "titleY": 21}},
      "y2": {"datum": 200}}},
    {"data": {"name": "c4"}, "mark": {"type": "bar", "width": 3.3, "clip": true},
     "encoding": {
      "x": {"field": "x", "type": "quantitative", "scale": {"domain": [0, 191.3], "nice": false, "zero": false}, "axis": {"tickCount": 191, "labelExpr": "datum.value > 0 && datum.value % 10 === 0 ? datum.value + 'M' : ''", "title": null}},
      "y": {"field": "d", "type": "quantitative", "scale": {"domain": [0, 200], "nice": false}, "axis": {"values": [0, 100, 200], "labelExpr": "format(datum.value / 100, '.1f')", "grid": true, "gridColor": "#8f8fa8", "gridWidth": 0.7, "title": "Smc6 siRNA", "titleAlign": "left", "titleX": -115, "titleY": 21}},
      "color": {"field": "s", "type": "nominal", "scale": {"domain": [0, 1], "range": ["#1b1331", "#e5294b"]}, "legend": null}
     }}
   ]}
 ],
 "spacing": 0,
 "bounds": "flush"
 }
 ],
 "spacing": 0,
 "bounds": "full"
},
{
 "title": {"text": "Chr. 13", "anchor": "start", "frame": "bounds", "dx": 18, "align": "left", "fontSize": 18, "baseline": "alphabetic", "offset": -1, "color": "#000"},
 "hconcat": [
 {"width": 1, "height": 1, "data": {"values": []}, "view": {"fill": "white"}, "mark": {"type": "point", "opacity": 0}, "encoding": {}},
 {
 "vconcat": [
  {"width": 354, "height": 63, "data": {"name": "c13"},
   "view": {"fill": "white", "stroke": "#a0a0a0", "strokeWidth": 1.5},
   "mark": {"type": "line", "color": "#3c9a3c", "strokeWidth": 1.1},
   "encoding": {
    "x": {"field": "x", "type": "quantitative", "scale": {"domain": [0, 115], "nice": false, "zero": false}, "axis": {"tickCount": 115, "labelExpr": "datum.value > 0 && datum.value % 10 === 0 ? datum.value + 'M' : ''", "title": null, "domain": true, "domainColor": "#000", "domainDash": [1.5, 1.5]}},
    "y": {"field": "g", "type": "quantitative", "scale": {"domain": [0, 2000], "nice": false}, "axis": {"values": [0,200,400,600,800,1000,1200,1400,1600,1800,2000], "format": "d", "grid": true, "gridColor": "#d9d9d9", "labelFontSize": 7.5, "title": ["gene", "content"], "titleBaseline": "top", "titleX": -66, "titleY": 5, "titleLineHeight": 24}}
   }},
  {"width": 10, "height": 42, "data": {"values": []}, "mark": {"type": "point", "opacity": 0}, "encoding": {}},
  {"width": 354, "height": 30, "data": {"name": "c13"},
   "view": {"fill": "#e2e2f7", "stroke": "#9a9a9a", "strokeWidth": 1.2},
   "title": {"text": ["topoIIα", "interphase"], "dx": -78, "align": "center", "baseline": "bottom", "offset": -13, "fontSize": 15, "color": "#e31e3c", "lineHeight": 12},
   "mark": {"type": "bar", "width": 3.3, "clip": true},
   "encoding": {
    "x": {"field": "x", "type": "quantitative", "scale": {"domain": [0, 115], "nice": false, "zero": false}, "axis": {"tickCount": 115, "labelExpr": "datum.value > 0 && datum.value % 10 === 0 ? datum.value + 'M' : ''", "title": null}},
    "y": {"field": "a", "type": "quantitative", "scale": {"domain": [0, 200], "nice": false}, "axis": {"values": [0, 100, 200], "labelExpr": "format(datum.value / 100, '.1f')", "grid": true, "gridColor": "#8f8fa8", "gridWidth": 0.7, "title": "control", "titleX": -77, "titleY": 22}},
    "color": {"field": "p", "type": "nominal", "scale": {"domain": [0, 1], "range": ["#1b1331", "#e5294b"]}, "legend": null}
   }},
  {"width": 10, "height": 18, "data": {"values": []}, "mark": {"type": "point", "opacity": 0}, "encoding": {}},
  {"width": 354, "height": 30, "data": {"name": "c13"},
   "view": {"fill": "#e2e2f7", "stroke": "#9a9a9a", "strokeWidth": 1.2},
   "mark": {"type": "bar", "width": 3.3, "clip": true},
   "encoding": {
    "x": {"field": "x", "type": "quantitative", "scale": {"domain": [0, 115], "nice": false, "zero": false}, "axis": {"tickCount": 115, "labels": false, "title": null}},
    "y": {"field": "b", "type": "quantitative", "scale": {"domain": [0, 200], "nice": false}, "axis": {"values": [0, 100, 200], "labelExpr": "format(datum.value / 100, '.1f')", "grid": true, "gridColor": "#8f8fa8", "gridWidth": 0.7, "title": "Smc6 siRNA", "titleAlign": "left", "titleX": -125, "titleY": 18}},
    "color": {"field": "q", "type": "nominal", "scale": {"domain": [0, 1], "range": ["#1b1331", "#e5294b"]}, "legend": null}
   }},
  {"width": 10, "height": 43, "data": {"values": []}, "mark": {"type": "point", "opacity": 0}, "encoding": {}},
  {"width": 354, "height": 30, "data": {"name": "c13"},
   "view": {"fill": "#e2e2f7", "stroke": "#9a9a9a", "strokeWidth": 1.2},
   "title": {"text": ["topoIIα", "mitosis"], "dx": -78, "align": "center", "baseline": "bottom", "offset": -14, "fontSize": 15, "color": "#e31e3c", "lineHeight": 12},
   "mark": {"type": "bar", "width": 3.3, "clip": true},
   "encoding": {
    "x": {"field": "x", "type": "quantitative", "scale": {"domain": [0, 115], "nice": false, "zero": false}, "axis": {"tickCount": 115, "labelExpr": "datum.value > 0 && datum.value % 10 === 0 ? datum.value + 'M' : ''", "title": null}},
    "y": {"field": "c", "type": "quantitative", "scale": {"domain": [0, 200], "nice": false}, "axis": {"values": [0, 100, 200], "labelExpr": "format(datum.value / 100, '.1f')", "grid": true, "gridColor": "#8f8fa8", "gridWidth": 0.7, "title": "control", "titleX": -77, "titleY": 25}},
    "color": {"field": "r", "type": "nominal", "scale": {"domain": [0, 1], "range": ["#1b1331", "#e5294b"]}, "legend": null}
   }},
  {"width": 10, "height": 19, "data": {"values": []}, "mark": {"type": "point", "opacity": 0}, "encoding": {}},
  {"width": 354, "height": 30, "data": {"name": "c13"},
   "view": {"fill": "#e2e2f7", "stroke": "#9a9a9a", "strokeWidth": 1.2},
   "mark": {"type": "bar", "width": 3.3, "clip": true},
   "encoding": {
    "x": {"field": "x", "type": "quantitative", "scale": {"domain": [0, 115], "nice": false, "zero": false}, "axis": {"tickCount": 115, "labelExpr": "datum.value > 0 && datum.value % 10 === 0 ? datum.value + 'M' : ''", "title": null}},
    "y": {"field": "d", "type": "quantitative", "scale": {"domain": [0, 200], "nice": false}, "axis": {"values": [0, 100, 200], "labelExpr": "format(datum.value / 100, '.1f')", "grid": true, "gridColor": "#8f8fa8", "gridWidth": 0.7, "title": "Smc6 siRNA", "titleAlign": "left", "titleX": -125, "titleY": 21}},
    "color": {"field": "s", "type": "nominal", "scale": {"domain": [0, 1], "range": ["#1b1331", "#e5294b"]}, "legend": null}
   }}
 ],
 "spacing": 0,
 "bounds": "flush"
 }
 ],
 "spacing": 0,
 "bounds": "full"
},
{
 "title": {"text": "Chr. X", "anchor": "start", "frame": "bounds", "dx": 22, "align": "left", "fontSize": 18, "baseline": "alphabetic", "offset": -2, "color": "#000"},
 "hconcat": [
 {"width": 1, "height": 1, "data": {"values": []}, "view": {"fill": "white"}, "mark": {"type": "point", "opacity": 0}, "encoding": {}},
 {
 "vconcat": [
  {"width": 478, "height": 60, "data": {"name": "cx"},
   "view": {"fill": "white", "stroke": "#a0a0a0", "strokeWidth": 1.5},
   "mark": {"type": "line", "color": "#3c9a3c", "strokeWidth": 1.1},
   "encoding": {
    "x": {"field": "x", "type": "quantitative", "scale": {"domain": [0, 155.3], "nice": false, "zero": false}, "axis": {"tickCount": 155, "labelExpr": "datum.value > 0 && datum.value % 10 === 0 ? datum.value + 'M' : ''", "title": null, "domain": true, "domainColor": "#000", "domainDash": [1.5, 1.5]}},
    "y": {"field": "g", "type": "quantitative", "scale": {"domain": [0, 2000], "nice": false}, "axis": {"values": [0,200,400,600,800,1000,1200,1400,1600,1800,2000], "format": "d", "grid": true, "gridColor": "#d9d9d9", "labelFontSize": 7.5, "title": ["gene", "content"], "titleBaseline": "top", "titleX": -67, "titleY": 5, "titleLineHeight": 24}}
   }},
  {"width": 10, "height": 38, "data": {"values": []}, "mark": {"type": "point", "opacity": 0}, "encoding": {}},
  {"width": 478, "height": 31,
   "view": {"fill": "#e2e2f7", "stroke": "#9a9a9a", "strokeWidth": 1.2},
   "title": {"text": ["topoIIα", "interphase"], "dx": -77, "align": "center", "baseline": "bottom", "offset": -13, "fontSize": 15, "color": "#e31e3c", "lineHeight": 12},
   "layer": [
    {"data": {"name": "gapx"}, "mark": {"type": "rect", "color": "#f7f7fc"},
     "encoding": {
      "x": {"field": "s", "type": "quantitative", "scale": {"domain": [0, 155.3], "nice": false, "zero": false}, "axis": {"tickCount": 155, "labelExpr": "datum.value > 0 && datum.value % 10 === 0 ? datum.value + 'M' : ''", "title": null}},
      "x2": {"field": "e"},
      "y": {"datum": 0, "type": "quantitative", "scale": {"domain": [0, 200], "nice": false}, "axis": {"values": [0, 100, 200], "labelExpr": "format(datum.value / 100, '.1f')", "grid": true, "gridColor": "#8f8fa8", "gridWidth": 0.7, "title": "control", "titleX": -76, "titleY": 25}},
      "y2": {"datum": 200}}},
    {"data": {"name": "cx"}, "mark": {"type": "bar", "width": 3.3, "clip": true},
     "encoding": {
      "x": {"field": "x", "type": "quantitative", "scale": {"domain": [0, 155.3], "nice": false, "zero": false}, "axis": {"tickCount": 155, "labelExpr": "datum.value > 0 && datum.value % 10 === 0 ? datum.value + 'M' : ''", "title": null}},
      "y": {"field": "a", "type": "quantitative", "scale": {"domain": [0, 200], "nice": false}, "axis": {"values": [0, 100, 200], "labelExpr": "format(datum.value / 100, '.1f')", "grid": true, "gridColor": "#8f8fa8", "gridWidth": 0.7, "title": "control", "titleX": -76, "titleY": 25}},
      "color": {"field": "p", "type": "nominal", "scale": {"domain": [0, 1], "range": ["#1b1331", "#e5294b"]}, "legend": null}
     }}
   ]},
  {"width": 10, "height": 18, "data": {"values": []}, "mark": {"type": "point", "opacity": 0}, "encoding": {}},
  {"width": 478, "height": 32,
   "view": {"fill": "#e2e2f7", "stroke": "#9a9a9a", "strokeWidth": 1.2},
   "layer": [
    {"data": {"name": "gapx"}, "mark": {"type": "rect", "color": "#f7f7fc"},
     "encoding": {
      "x": {"field": "s", "type": "quantitative", "scale": {"domain": [0, 155.3], "nice": false, "zero": false}, "axis": {"tickCount": 155, "labels": false, "title": null}},
      "x2": {"field": "e"},
      "y": {"datum": 0, "type": "quantitative", "scale": {"domain": [0, 200], "nice": false}, "axis": {"values": [0, 100, 200], "labelExpr": "format(datum.value / 100, '.1f')", "grid": true, "gridColor": "#8f8fa8", "gridWidth": 0.7, "title": "Smc6 siRNA", "titleAlign": "left", "titleX": -123, "titleY": 23}},
      "y2": {"datum": 200}}},
    {"data": {"name": "cx"}, "mark": {"type": "bar", "width": 3.3, "clip": true},
     "encoding": {
      "x": {"field": "x", "type": "quantitative", "scale": {"domain": [0, 155.3], "nice": false, "zero": false}, "axis": {"tickCount": 155, "labels": false, "title": null}},
      "y": {"field": "b", "type": "quantitative", "scale": {"domain": [0, 200], "nice": false}, "axis": {"values": [0, 100, 200], "labelExpr": "format(datum.value / 100, '.1f')", "grid": true, "gridColor": "#8f8fa8", "gridWidth": 0.7, "title": "Smc6 siRNA", "titleAlign": "left", "titleX": -123, "titleY": 23}},
      "color": {"field": "q", "type": "nominal", "scale": {"domain": [0, 1], "range": ["#1b1331", "#e5294b"]}, "legend": null}
     }}
   ]},
  {"width": 10, "height": 42, "data": {"values": []}, "mark": {"type": "point", "opacity": 0}, "encoding": {}},
  {"width": 478, "height": 31,
   "view": {"fill": "#e2e2f7", "stroke": "#9a9a9a", "strokeWidth": 1.2},
   "title": {"text": ["topoIIα", "mitosis"], "dx": -77, "align": "center", "baseline": "bottom", "offset": -14, "fontSize": 15, "color": "#e31e3c", "lineHeight": 12},
   "layer": [
    {"data": {"name": "gapx"}, "mark": {"type": "rect", "color": "#f7f7fc"},
     "encoding": {
      "x": {"field": "s", "type": "quantitative", "scale": {"domain": [0, 155.3], "nice": false, "zero": false}, "axis": {"tickCount": 155, "labelExpr": "datum.value > 0 && datum.value % 10 === 0 ? datum.value + 'M' : ''", "title": null}},
      "x2": {"field": "e"},
      "y": {"datum": 0, "type": "quantitative", "scale": {"domain": [0, 200], "nice": false}, "axis": {"values": [0, 100, 200], "labelExpr": "format(datum.value / 100, '.1f')", "grid": true, "gridColor": "#8f8fa8", "gridWidth": 0.7, "title": "control", "titleX": -76, "titleY": 24}},
      "y2": {"datum": 200}}},
    {"data": {"name": "cx"}, "mark": {"type": "bar", "width": 3.3, "clip": true},
     "encoding": {
      "x": {"field": "x", "type": "quantitative", "scale": {"domain": [0, 155.3], "nice": false, "zero": false}, "axis": {"tickCount": 155, "labelExpr": "datum.value > 0 && datum.value % 10 === 0 ? datum.value + 'M' : ''", "title": null}},
      "y": {"field": "c", "type": "quantitative", "scale": {"domain": [0, 200], "nice": false}, "axis": {"values": [0, 100, 200], "labelExpr": "format(datum.value / 100, '.1f')", "grid": true, "gridColor": "#8f8fa8", "gridWidth": 0.7, "title": "control", "titleX": -76, "titleY": 24}},
      "color": {"field": "r", "type": "nominal", "scale": {"domain": [0, 1], "range": ["#1b1331", "#e5294b"]}, "legend": null}
     }}
   ]},
  {"width": 10, "height": 17, "data": {"values": []}, "mark": {"type": "point", "opacity": 0}, "encoding": {}},
  {"width": 478, "height": 32,
   "view": {"fill": "#e2e2f7", "stroke": "#9a9a9a", "strokeWidth": 1.2},
   "layer": [
    {"data": {"name": "gapx"}, "mark": {"type": "rect", "color": "#f7f7fc"},
     "encoding": {
      "x": {"field": "s", "type": "quantitative", "scale": {"domain": [0, 155.3], "nice": false, "zero": false}, "axis": {"tickCount": 155, "labelExpr": "datum.value > 0 && datum.value % 10 === 0 ? datum.value + 'M' : ''", "title": null}},
      "x2": {"field": "e"},
      "y": {"datum": 0, "type": "quantitative", "scale": {"domain": [0, 200], "nice": false}, "axis": {"values": [0, 100, 200], "labelExpr": "format(datum.value / 100, '.1f')", "grid": true, "gridColor": "#8f8fa8", "gridWidth": 0.7, "title": "Smc6 siRNA", "titleAlign": "left", "titleX": -123, "titleY": 23}},
      "y2": {"datum": 200}}},
    {"data": {"name": "cx"}, "mark": {"type": "bar", "width": 3.3, "clip": true},
     "encoding": {
      "x": {"field": "x", "type": "quantitative", "scale": {"domain": [0, 155.3], "nice": false, "zero": false}, "axis": {"tickCount": 155, "labelExpr": "datum.value > 0 && datum.value % 10 === 0 ? datum.value + 'M' : ''", "title": null}},
      "y": {"field": "d", "type": "quantitative", "scale": {"domain": [0, 200], "nice": false}, "axis": {"values": [0, 100, 200], "labelExpr": "format(datum.value / 100, '.1f')", "grid": true, "gridColor": "#8f8fa8", "gridWidth": 0.7, "title": "Smc6 siRNA", "titleAlign": "left", "titleX": -123, "titleY": 23}},
      "color": {"field": "s", "type": "nominal", "scale": {"domain": [0, 1], "range": ["#1b1331", "#e5294b"]}, "legend": null}
     }}
   ]}
 ],
 "spacing": 0,
 "bounds": "flush"
 }
 ],
 "spacing": 0,
 "bounds": "full"
}
],
"columns": 1,
"align": "none",
"bounds": "full",
"spacing": 37
}
